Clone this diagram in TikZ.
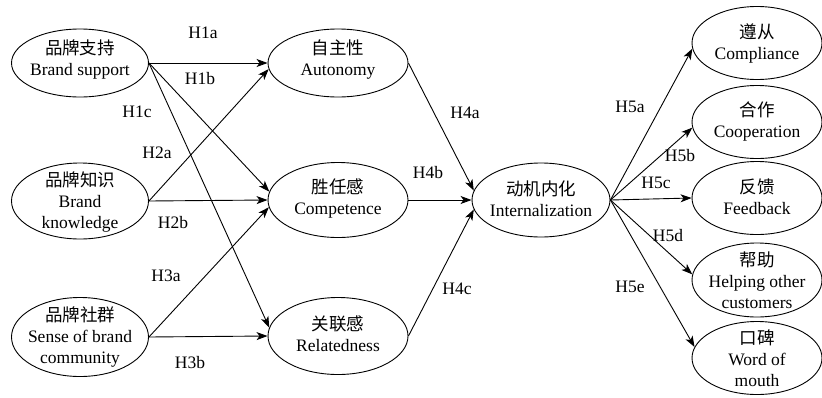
\documentclass[tikz,border=0pt]{standalone}
\usepackage{fontspec}
\setmainfont{Liberation Serif}
\newfontfamily\cjk{Noto Sans CJK SC}
\usetikzlibrary{shapes.geometric,arrows.meta}
\newcommand\zh[1]{{\cjk #1}}
\tikzset{
  ell/.style={ellipse,draw,line width=0.9pt,inner sep=0pt,minimum width=137pt,minimum height=72pt},
  rell/.style={ell,minimum width=130pt,minimum height=73pt},
  txt/.style={align=center,inner sep=0pt,font=\fontsize{17.5}{21}\selectfont},
  hlab/.style={inner sep=0pt,font=\fontsize{17.5}{21}\selectfont},
  arr/.style={line width=0.9pt,-{Stealth[length=11pt,width=8pt,inset=3pt]}}
}
\begin{document}
\begin{tikzpicture}[x=1pt,y=-1pt]
\useasboundingbox (0,0) rectangle (822,397);
% ellipses
\node[ell,minimum height=68pt] (bs) at (80,63) {};
\node[ell,minimum height=76pt] (bk) at (80,201) {};
\node[ell,minimum height=79pt] (sc) at (80,337) {};
\node[ell,minimum width=140pt,minimum height=68pt] (au) at (338,63) {};
\node[ell,minimum width=140pt,minimum height=75pt] (co) at (338,200) {};
\node[ell,minimum width=140pt,minimum height=77pt] (re) at (338,336) {};
\node[ell,minimum width=138pt,minimum height=74pt] (in) at (541,200) {};
\node[rell] (cm) at (757,43) {};
\node[rell] (cp) at (757,122) {};
\node[rell] (fb) at (757,198) {};
\node[rell,minimum height=74pt] (hp) at (757,280) {};
\node[rell] (wm) at (757,358) {};
% texts
\node[txt] (bst) at (80,59) {\zh{品牌支持}\\Brand support};
\node[txt] (bkt) at (80,202) {\zh{品牌知识}\\Brand\\knowledge};
\node[txt] (sct) at (80,337) {\zh{品牌社群}\\Sense of brand\\community};
\node[txt] (aut) at (338,60) {\zh{自主性}\\Autonomy};
\node[txt] (cot) at (338,198) {\zh{胜任感}\\Competence};
\node[txt] (ret) at (338,334) {\zh{关联感}\\Relatedness};
\node[txt] (int) at (541,199) {\zh{动机内化}\\Internalization};
\node[txt] (cmt) at (757,43) {\zh{遵从}\\Compliance};
\node[txt] (cpt) at (757,121) {\zh{合作}\\Cooperation};
\node[txt] (fbt) at (757,197) {\zh{反馈}\\Feedback};
\node[txt] (hpt) at (757,280) {\zh{帮助}\\Helping other\\customers};
\node[txt] (wmt) at (757,358) {\zh{口碑}\\Word of\\mouth};
% arrows
\draw[arr] (bs.east) -- (au.west);
\draw[arr] (bs.east) -- (co.173);
\draw[arr] (bs.east) -- (re.173);
\draw[arr] (bk.east) -- (au.185);
\draw[arr] (bk.east) -- (co.west);
\draw[arr] (sc.east) -- (co.186);
\draw[arr] (sc.east) -- (re.west);
\draw[arr] (au.east) -- (in.172);
\draw[arr] (co.east) -- (in.west);
\draw[arr] (re.east) -- (in.188);
\draw[arr] (in.east) -- (cm.185);
\draw[arr] (in.east) -- (cp.185);
\draw[arr] (in.east) -- (fb.west);
\draw[arr] (in.east) -- (hp.175);
\draw[arr] (in.east) -- (wm.170);
% hypothesis labels
\node[hlab] (l1a) at (203,33) {H1a};
\node[hlab] (l1b) at (200,79) {H1b};
\node[hlab] (l1c) at (137,112) {H1c};
\node[hlab] (l2a) at (157,153) {H2a};
\node[hlab] (l2b) at (173,223) {H2b};
\node[hlab] (l3a) at (166,276) {H3a};
\node[hlab] (l3b) at (190,363) {H3b};
\node[hlab] (l4a) at (465,113) {H4a};
\node[hlab] (l4b) at (428,173) {H4b};
\node[hlab] (l4c) at (457,289) {H4c};
\node[hlab] (l5a) at (630,107) {H5a};
\node[hlab] (l5b) at (680,156) {H5b};
\node[hlab] (l5c) at (656,183) {H5c};
\node[hlab] (l5d) at (668,236) {H5d};
\node[hlab] (l5e) at (630,287) {H5e};
\end{tikzpicture}
\end{document}
